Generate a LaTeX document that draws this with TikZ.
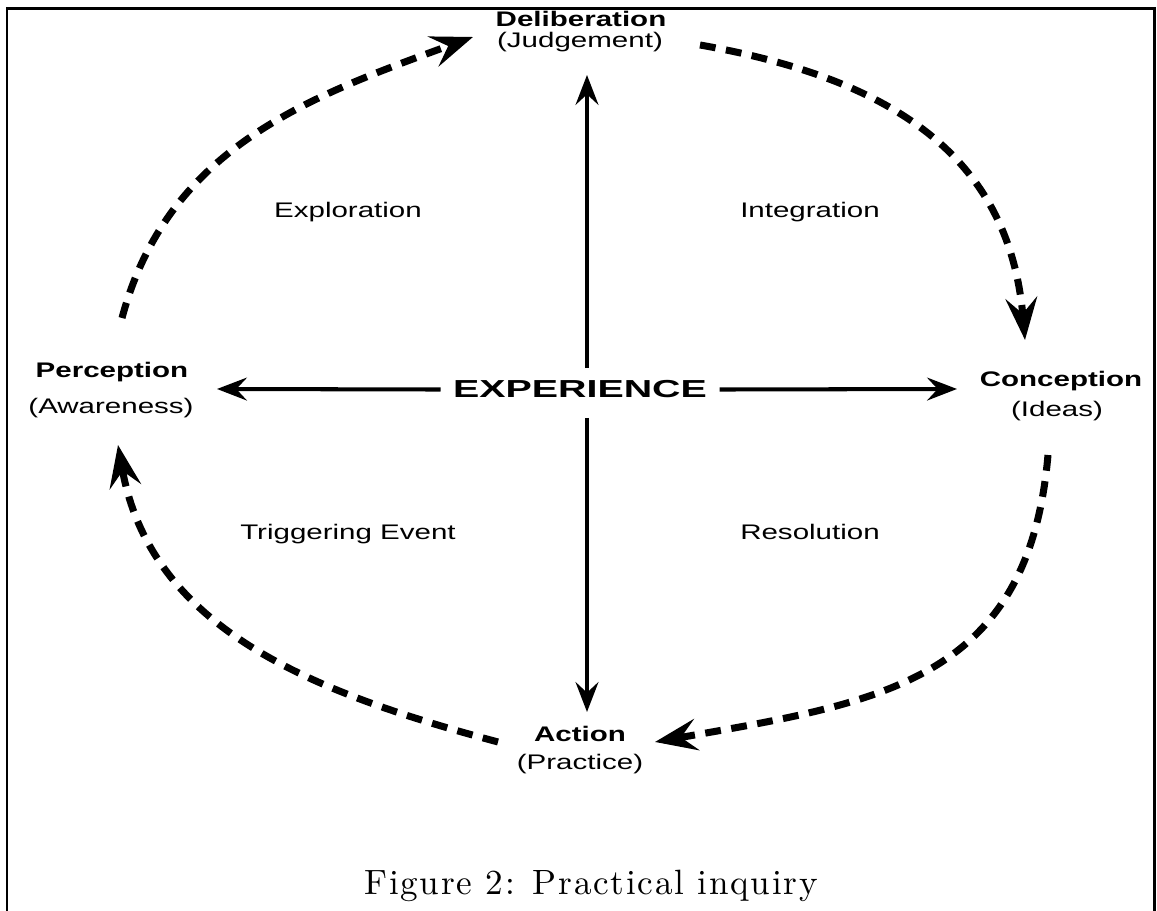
\documentclass[tikz,border=0pt]{standalone}
\usepackage{fontspec}
\usetikzlibrary{arrows.meta}
\newfontfamily\labelfont[FakeStretch=1.4]{Liberation Sans}
\newfontfamily\widefont[FakeStretch=1.6]{Liberation Sans}
\newfontfamily\capfont[Extension=.otf,LetterSpace=5]{lmroman10-regular}
\tikzset{
  lbl/.style={anchor=base,inner sep=0pt,font=\labelfont\fontsize{12}{14}\selectfont},
  pole/.style={lbl,font=\labelfont\bfseries\fontsize{12}{14}\selectfont},
  axisarrow/.style={line width=2.3pt,-{Stealth[length=17pt,width=13pt,inset=6pt]}},
  cyclearc/.style={line width=4pt,dash pattern=on 9pt off 6pt,
    -{Stealth[length=24pt,width=18pt,inset=9pt]}},
}
\begin{document}
\begin{tikzpicture}[x=0.02cm,y=0.02cm]
  \useasboundingbox (0,0) rectangle (1157,911);
  \draw[line width=1.7pt] (7,0) -- (7,902) -- (1154,902) -- (1154,0);
  % the four poles
  \node[pole] (delib) at (581,884) {Deliberation};
  \node[lbl] (judge) at (580,863) {(Judgement)};
  \node[pole] (percep) at (112,533) {Perception};
  \node[lbl] (aware) at (111,497) {(Awareness)};
  \node[pole] (concep) at (1061,524) {Conception};
  \node[lbl] (ideas) at (1057,494) {(Ideas)};
  \node[pole] (action) at (580,169) {Action};
  \node[lbl] (practice) at (580,141) {(Practice)};
  % phases
  \node[lbl] (explor) at (348,693) {Exploration};
  \node[lbl] (integ) at (810,693) {Integration};
  \node[lbl] (trigger) at (348,371) {Triggering Event};
  \node[lbl] (resol) at (810,371) {Resolution};
  % centre
  \node[anchor=base,inner xsep=7pt,inner ysep=7pt,
    font=\widefont\bfseries\fontsize{14}{16}\selectfont] (exper) at (580,513) {EXPERIENCE};
  \coordinate (uptip) at (587,836);
  \coordinate (downtip) at (587,199);
  \coordinate (lefttip) at (217,522);
  \coordinate (righttip) at (957,522);
  \draw[axisarrow] (exper.north -| uptip) -- (uptip);
  \draw[axisarrow,shorten <=4pt] (exper.south -| downtip) -- (downtip);
  \draw[axisarrow] (exper.west) -- (lefttip);
  \draw[axisarrow] (exper.east) -- (righttip);
  % the cycle
  \coordinate (percep-out) at (122,593);
  \coordinate (delib-in) at (473,874);
  \coordinate (delib-out) at (700,866);
  \coordinate (concep-in) at (1025,571);
  \coordinate (concep-out) at (1048,456);
  \coordinate (action-in) at (655,169);
  \coordinate (action-out) at (498,169);
  \coordinate (percep-in) at (118,466);
  \draw[cyclearc] (percep-out) to[out=75,in=200] (delib-in);
  \draw[cyclearc] (delib-out) to[out=-10,in=95,looseness=1.1] (concep-in);
  \draw[cyclearc] (concep-out) to[out=-95,in=10,looseness=1.2] (action-in);
  \draw[cyclearc] (action-out) to[out=165,in=-80] (percep-in);
  \node[anchor=base,inner sep=0pt,font=\capfont\fontsize{20}{24}\selectfont] (caption)
    at (591,16) {Figure 2: Practical inquiry};
\end{tikzpicture}
\end{document}
